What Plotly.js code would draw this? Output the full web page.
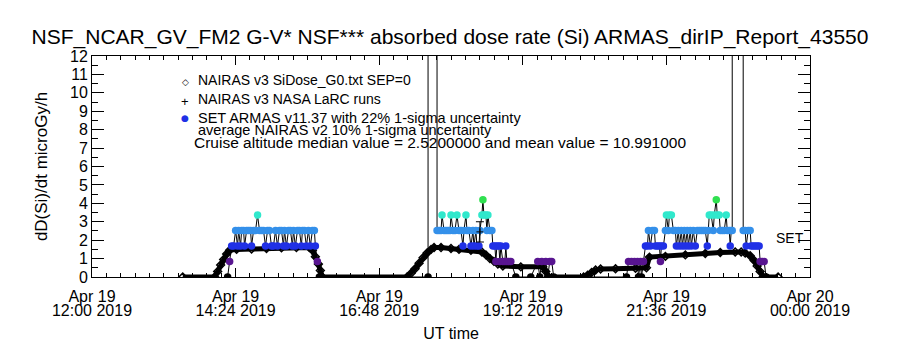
<!DOCTYPE html>
<html>
<head>
<meta charset="utf-8">
<script src="https://cdn.plot.ly/plotly-3.0.1.min.js"></script>
<style>html,body{margin:0;padding:0;background:#fff;}#chart{width:900px;height:350px;}</style>
</head>
<body>
<div id="chart"></div>
<script>
// ---------------- DATA ----------------
// times are minutes after 2019-04-19 12:00 UT
const chartTitle = 'NSF_NCAR_GV_FM2 G-V* NSF*** absorbed dose rate (Si) ARMAS_dirIP_Report_43550';
const xTickVals = ['2019-04-19 12:00','2019-04-19 14:24','2019-04-19 16:48','2019-04-19 19:12','2019-04-19 21:36','2019-04-20 00:00'];
const xTickDay  = ['Apr 19','Apr 19','Apr 19','Apr 19','Apr 19','Apr 20'];
const xTickTime = ['12:00 2019','14:24 2019','16:48 2019','19:12 2019','21:36 2019','00:00 2019'];

// NAIRAS v3 SiDose_G0.txt SEP=0
const nairasMin = [91,123,126,129,132,135,138,145,160,175,190,205,218,221,224,227,229,231,
  316,320,324,328,332,336,340,343,350,360,368,380,391,395,399,403,407,412,430,452,455,458,
  493,497,501,505,510,525,545,556,559,575,595,615,630,645,651,655,660,664,667,670,673,688];
const nairasDose = [0,0,0.3,0.65,0.95,1.25,1.45,1.5,1.52,1.55,1.58,1.6,1.6,1.45,1.1,0.7,0.35,0,
  0,0.2,0.45,0.75,1.05,1.3,1.5,1.6,1.6,1.55,1.5,1.45,1.36,1.2,1.0,0.85,0.7,0.6,0.55,0.55,0.3,0,
  0,0.1,0.25,0.38,0.43,0.45,0.47,0.5,1.08,1.12,1.2,1.28,1.33,1.36,1.36,1.3,1.15,0.9,0.6,0.3,0,0];

// NAIRAS v3 NASA LaRC runs
const larcMin = [389];
const larcDose = [2.45];
const larcErr = [0.55];

// SET ARMAS v11.37
const armasMin = [136,138,140,142,144,146,147,149,150,152,153,155,157,159,160,162,164,166,168,170,172,174,176,178,180,182,
  184,186,188,190,192,193,195,197,199,201,202,204,206,208,210,211,213,215,217,219,221,223,224,226,228,
  337,337,346,346,348,350,351,353,355,357,359,360,362,364,366,368,370,372,373,375,376,378,380,382,383,385,386,388,389,
  391,392,393,395,396,397,399,401,402,404,405,406,408,409,410,412,414,415,416,418,420,425,440,447,449,451,455,457,459,461,463,
  536,538,541,544,547,548,550,551,553,555,557,558,560,562,564,565,567,569,570,571,573,575,576,578,579,581,583,585,586,588,589,
  591,592,594,595,597,598,600,601,603,605,607,609,611,613,615,617,618,619,621,623,624,626,627,629,630,632,634,636,637,639,640,641,642,
  642,653,653,655,656,658,660,661,663,665,667,669,670,672,674,676];
const armasDose = [0,0.84,1.68,1.68,2.52,1.68,2.52,1.68,2.52,2.52,1.68,2.52,2.52,2.52,1.68,2.52,2.52,3.36,2.52,2.52,2.52,1.68,2.52,2.52,1.68,1.68,
  2.52,1.68,2.52,2.52,1.68,2.52,1.68,2.52,2.52,1.68,2.52,1.68,2.52,2.52,1.68,2.52,2.52,1.68,2.52,1.68,2.52,2.52,1.68,0.84,0,
  0,30,30,2.52,2.52,2.52,3.36,2.52,2.52,2.52,2.52,3.36,2.52,2.52,3.36,2.52,2.52,1.68,2.52,3.36,2.52,2.52,1.68,2.52,1.68,2.52,1.68,1.68,2.52,
  3.36,4.2,3.36,3.36,2.52,3.36,2.52,2.52,1.68,1.68,0.84,1.68,1.68,0.84,1.68,0.84,0.84,1.68,0.84,0.84,0.84,0,0,0.84,0,0.84,0.84,0,0.84,0.84,0,
  0,0.84,0.84,0.84,0.84,0,0.84,0,0.84,1.68,1.68,2.52,1.68,2.52,2.52,1.68,1.68,1.68,0.84,1.68,1.68,2.52,3.36,2.52,3.36,3.36,2.52,2.52,1.68,2.52,1.68,
  2.52,1.68,2.52,1.68,2.52,1.68,2.52,1.68,2.52,1.68,2.52,2.52,2.52,2.52,2.52,1.68,2.52,3.36,3.36,2.52,3.36,4.2,3.36,3.36,2.52,2.52,2.52,3.36,2.52,2.52,1.68,2.52,2.52,
  30,30,2.52,2.52,1.68,2.52,2.52,1.68,1.68,1.68,1.68,1.68,0.84,0.84,0.84,0];

// legend / annotation texts
const legendTexts = ['NAIRAS v3 SiDose_G0.txt SEP=0','NAIRAS v3 NASA LaRC runs','SET ARMAS v11.37 with 22% 1-sigma uncertainty',
  'average NAIRAS v2 10% 1-sigma uncertainty','Cruise altitude median value = 2.5200000 and mean value = 10.991000'];

// ---------------- HELPERS ----------------
const BASE = Date.UTC(2019,3,19,12,0,0);
function toDate(m){
  const d = new Date(BASE + Math.round(m*60000));
  const p = n => String(n).padStart(2,'0');
  return d.getUTCFullYear()+'-'+p(d.getUTCMonth()+1)+'-'+p(d.getUTCDate())+' '+p(d.getUTCHours())+':'+p(d.getUTCMinutes())+':'+p(d.getUTCSeconds());
}
function armasColor(v){
  if(v<0.4) return '#000000';
  if(v<1.2) return '#581590';
  if(v<2.0) return '#2030e6';
  if(v<2.9) return '#3490ea';
  if(v<3.8) return '#30e8cc';
  return '#30e050';
}
const L=92, R=810, T=56, B=277;
const px = x => (x-L)/(R-L);
const py = y => (B-y)/(B-T);
const FONT = 'Liberation Sans, Arial, sans-serif';
function note(x, y, text, size, color, anchor, family){
  return {xref:'paper', yref:'paper', x:px(x), y:py(y), xanchor:anchor||'left', yanchor:'middle',
    text:text, showarrow:false, font:{family:family||FONT, size:size, color:color||'#000'}};
}

// ---------------- TRACES ----------------
const traces = [
  {x: nairasMin.map(toDate), y: nairasDose, type:'scatter', mode:'lines+markers',
   line:{color:'#000', width:5}, marker:{symbol:'diamond-open', size:6, color:'#000', line:{width:1.5}},
   name: legendTexts[0], hoverinfo:'x+y'},
  {x: armasMin.map(toDate), y: armasDose, type:'scatter', mode:'lines+markers',
   line:{color:'#000', width:1},
   marker:{symbol:'circle', size:7.5, color: armasDose.map(armasColor), line:{width:0}},
   name: 'SET ARMAS'},
  {x: larcMin.map(toDate), y: larcDose, type:'scatter', mode:'markers',
   marker:{symbol:'cross-thin-open', size:5, color:'#000', line:{width:1, color:'#000'}},
   error_y:{type:'data', array: larcErr, visible:true, color:'#000', thickness:1, width:4},
   name: legendTexts[1]},
  {x: [xTickVals[0]], y:[0], xaxis:'x2', type:'scatter', mode:'markers', marker:{opacity:0}, hoverinfo:'skip', showlegend:false}
];

const annotations = [
  note(185, 82, '◇', 9, '#000', 'center', 'DejaVu Sans'),
  note(185, 101, '+', 13, '#000', 'center'),
  note(185, 118, '●', 9, '#2030e6', 'center', 'DejaVu Sans'),
  note(196, 80, legendTexts[0], 14),
  note(196, 99, legendTexts[1], 14),
  note(196, 118, legendTexts[2], 14.5),
  note(196, 130, legendTexts[3], 14.5),
  note(192, 142, legendTexts[4], 15.5),
  {xref:'x', yref:'y', x:toDate(684), y:2.1, xanchor:'left', yanchor:'middle', text:'SET', showarrow:false, font:{family:FONT, size:14, color:'#000'}}
];

const layout = {
  width:900, height:350,
  margin:{l:L, r:900-R, t:T, b:350-B},
  paper_bgcolor:'#fff', plot_bgcolor:'#fff',
  showlegend:false,
  font:{family:FONT, color:'#000'},
  title:{text: chartTitle, font:{family:FONT, size:21, color:'#000'}, x:0.5, xanchor:'center', y:1-37/350, yanchor:'middle'},
  xaxis:{type:'date', range:['2019-04-19 12:00','2019-04-20 00:00'],
    tickmode:'array', tickvals:xTickVals, ticktext:xTickTime,
    ticks:'inside', ticklen:9, tickcolor:'#000', tickwidth:1,
    ticklabelstandoff:19,
    minor:{tickmode:'linear', tick0:'2019-04-19 12:00', dtick:864000, ticks:'inside', ticklen:4, tickcolor:'#000', showgrid:false},
    showline:true, linecolor:'#000', linewidth:1, mirror:'ticks',
    showgrid:false, zeroline:false,
    tickfont:{family:FONT, size:16, color:'#000'},
    title:{text:'UT time', font:{family:FONT, size:16, color:'#000'}, standoff:9}},
  xaxis2:{type:'date', overlaying:'x', matches:'x', anchor:'y', side:'bottom',
    tickmode:'array', tickvals:xTickVals, ticktext:xTickDay,
    ticks:'', showline:false, showgrid:false, zeroline:false, ticklabelstandoff:8,
    tickfont:{family:FONT, size:16, color:'#000'}},
  yaxis:{range:[0,12], tickmode:'linear', tick0:0, dtick:1,
    ticks:'inside', ticklen:12, tickcolor:'#000', tickwidth:1,
    minor:{dtick:0.5, ticks:'inside', ticklen:6, tickcolor:'#000', showgrid:false},
    showline:true, linecolor:'#000', linewidth:1, mirror:'ticks',
    showgrid:false, zeroline:false,
    tickfont:{family:FONT, size:16, color:'#000'},
    title:{text:'dD(Si)/dt microGy/h', font:{family:FONT, size:17, color:'#000'}, standoff:18}},
  annotations: annotations
};

Plotly.newPlot('chart', traces, layout, {displayModeBar:false, staticPlot:true});
</script>
</body>
</html>
